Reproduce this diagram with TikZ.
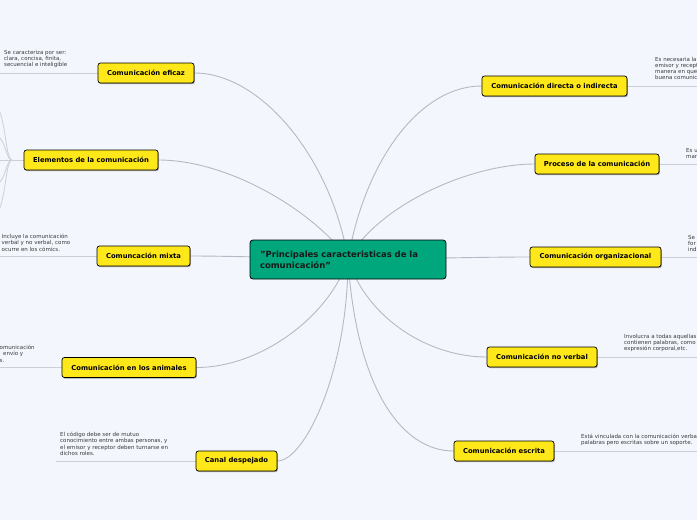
\documentclass[tikz,border=0pt]{standalone}
\usepackage{fontspec}
\setmainfont{DejaVu Sans}
\usetikzlibrary{backgrounds,shadows}
\definecolor{bgc}{HTML}{F3F6FD}
\definecolor{yfill}{HTML}{FFE81A}
\definecolor{gfill}{HTML}{00A67C}
\definecolor{conn}{HTML}{B4B9C6}
\definecolor{uline}{HTML}{CBCFD8}
\definecolor{smalltxt}{HTML}{3A3A3A}
\tikzset{
  ynode/.style={draw=black, fill=yfill, rounded corners=2.5pt, line width=0.7pt,
    minimum height=20pt, minimum width=#1, inner sep=0pt,
    font=\fontsize{6.8}{8}\selectfont\bfseries, text=black,
    drop shadow={shadow xshift=0.8pt, shadow yshift=-1.2pt, opacity=0.35, fill=black}},
  rootnode/.style={draw=black, fill=gfill, rounded corners=3pt, line width=0.8pt,
    minimum height=39pt, minimum width=196pt, text width=176pt, align=left,
    inner xsep=10pt, font=\fontsize{8.5}{11}\selectfont\bfseries, text=black!90},
  smallnote/.style={anchor=north west, inner sep=0pt, align=left,
    font=\fontsize{5.5}{6.2}\selectfont, text=smalltxt},
  connector/.style={draw=conn, line width=0.9pt},
  underline/.style={draw=uline, line width=0.8pt},
}
\begin{document}
\begin{tikzpicture}[x=1pt,y=-1pt]
\useasboundingbox (0,0) rectangle (697,520);
\begin{scope}
\clip (0,0) rectangle (697,520);
% root
\node[rootnode] (root) at (348,259.5) {"Principales caracteristicas de la\\comunicación"};
% left nodes
\node[ynode=96pt]  (eficaz)  at (146,73)  {Comunicación eficaz};
\node[ynode=134pt] (elem)    at (91,160)  {Elementos de la comunicación};
\node[ynode=93pt]  (mixta)   at (143.5,256) {Comuncación mixta};
\node[ynode=134pt] (anim)    at (129,367.5) {Comunicación en los animales};
\node[ynode=81pt]  (canal)   at (236.5,461) {Canal despejado};
% right nodes
\node[ynode=145pt] (direc)   at (554.5,86) {Comunicación directa o indirecta};
\node[ynode=124pt] (proc)    at (597,164)  {Proceso de la comunicación};
\node[ynode=131pt] (organ)   at (595.5,257) {Comunicación organizacional};
\node[ynode=110pt] (noverb)  at (542,357)  {Comunicación no verbal};
\node[ynode=100pt] (escr)    at (504,451)  {Comunicación escrita};
% notes
\node[smallnote] (t1) at (4,50) {Se caracteriza por ser:\\clara, concisa, finita,\\secuencial e inteligible};
\node[smallnote] (t3) at (1.5,234) {Incluye la comunicación\\verbal y no verbal, como\\ocurre en los cómics.};
\node[smallnote] (t4) at (-0.5,345) {omunicación\\\ \ envío y\\s.};
\node[smallnote] (t5) at (60,432) {El código debe ser de mutuo\\conocimiento entre ambas personas, y\\el emisor y receptor deben turnarse en\\dichos roles.};
\node[smallnote] (t6) at (655,57) {Es necesaria la\\emisor y recept\\manera en que\\buena comunic};
\node[smallnote] (t7) at (686,148) {Es u\\mar};
\node[smallnote] (t8) at (688,235) {Se\\for\\ind};
\node[smallnote] (t9) at (624,334) {Involucra a todas aquellas\\contienen palabras, como\\expresión corporal,etc.};
\node[smallnote] (t10) at (581,434) {Está vinculada con la comunicación verbal\\palabras pero escritas sobre un soporte.};
% free ends
\coordinate (u1) at (0,73);
\coordinate (u2) at (12,160);
\coordinate (u3) at (0,256);
\coordinate (u4) at (0,367.5);
\coordinate (u5) at (56,461);
\coordinate (u6) at (697,86);
\coordinate (u7) at (697,164);
\coordinate (u8) at (697,257);
\coordinate (u9) at (697,357);
\coordinate (u10) at (697,451);
\coordinate (e1) at (-1,110);
\coordinate (e2) at (-3,136);
\coordinate (e3) at (-3,160);
\coordinate (e4) at (-3,184);
\coordinate (e5) at (-1,210);
\begin{pgfonlayer}{background}
\fill[bgc] (-5,-5) rectangle (702,525);
% connectors from root
\path[connector] (root.center) .. controls (332,160) and (262,73) .. (eficaz.east);
\path[connector] (root.center) .. controls (318,215) and (232,160) .. (elem.east);
\path[connector] (root.center) .. controls (300,258) and (230,256) .. (mixta.east);
\path[connector] (root.center) .. controls (330,315) and (262,367.5) .. (anim.east);
\path[connector] (root.center) .. controls (348,370) and (305,461) .. (canal.east);
\path[connector] (root.center) .. controls (365,160) and (420,86) .. (direc.west);
\path[connector] (root.center) .. controls (378,205) and (470,164) .. (proc.west);
\path[connector] (root.center) .. controls (450,258) and (490,257) .. (organ.west);
\path[connector] (root.center) .. controls (368,320) and (430,357) .. (noverb.west);
\path[connector] (root.center) .. controls (356,385) and (400,451) .. (escr.west);
% underlines
\path[underline] (eficaz.west) -- (u1);
\path[underline] (elem.west) -- (u2);
\path[underline] (mixta.west) -- (u3);
\path[underline] (anim.west) -- (u4);
\path[underline] (canal.west) -- (u5);
\path[underline] (direc.east) -- (u6);
\path[underline] (proc.east) -- (u7);
\path[underline] (organ.east) -- (u8);
\path[underline] (noverb.east) -- (u9);
\path[underline] (escr.east) -- (u10);
% elementos sub-branches
\path[underline] (u2) .. controls (6,160) and (6,125) .. (e1);
\path[underline] (u2) .. controls (6,160) and (6,140) .. (e2);
\path[underline] (u2) -- (e3);
\path[underline] (u2) .. controls (6,160) and (6,180) .. (e4);
\path[underline] (u2) .. controls (6,160) and (6,195) .. (e5);
\end{pgfonlayer}
\end{scope}
\end{tikzpicture}
\end{document}
